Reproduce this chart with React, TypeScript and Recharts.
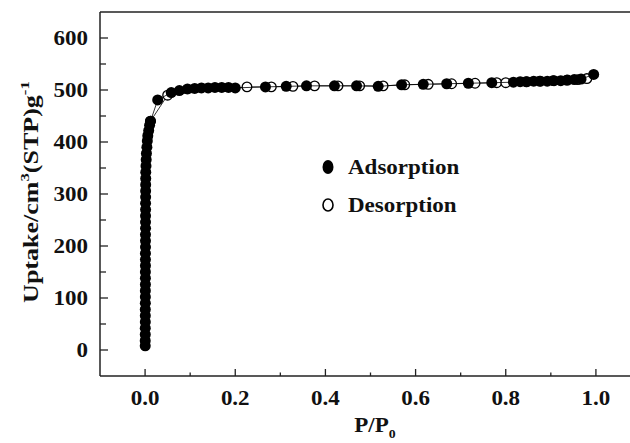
import { ScatterChart, Scatter, XAxis, YAxis, ReferenceLine, Legend, Label } from "recharts";

// adsorption branch (filled circles)
const adsP = [
  0.0003, 0.0003, 0.0004, 0.0004, 0.0005, 0.0005, 0.0005, 0.0006, 0.0006, 0.0006,
  0.0007, 0.0007, 0.0007, 0.0008, 0.0008, 0.0008, 0.0009, 0.0009, 0.0009, 0.001,
  0.001, 0.001, 0.0011, 0.0011, 0.0012, 0.0012, 0.0013, 0.0014, 0.0015, 0.002,
  0.0025, 0.003, 0.004, 0.005, 0.006, 0.008, 0.01, 0.012,
  0.028, 0.058, 0.076, 0.094, 0.11, 0.125, 0.14, 0.155, 0.17, 0.185, 0.2,
  0.267, 0.313, 0.358, 0.42, 0.469, 0.517, 0.569, 0.617, 0.669, 0.717, 0.769,
  0.817, 0.832, 0.847, 0.862, 0.877, 0.892, 0.907, 0.922, 0.937, 0.952, 0.967, 0.995,
];
const adsUptake = [
  8, 18, 30, 42, 54, 66, 78, 90, 102, 114,
  126, 138, 150, 162, 174, 186, 198, 210, 222, 234,
  246, 258, 270, 282, 294, 306, 318, 330, 342, 354,
  366, 378, 390, 402, 412, 422, 432, 440,
  481, 495, 499, 502, 503, 504, 504, 505, 505, 505, 504,
  506, 507, 508, 508, 508, 507, 510, 511, 512, 513, 514,
  515, 516, 516, 517, 517, 517, 518, 518, 519, 520, 521, 530,
];

// desorption branch (open circles)
const desP = [
  0.012, 0.05, 0.226, 0.28, 0.328, 0.376, 0.428, 0.476, 0.528, 0.576, 0.628, 0.68,
  0.732, 0.78, 0.8, 0.845, 0.875, 0.905, 0.935, 0.96, 0.98,
];
const desUptake = [
  440, 490, 506, 506, 507, 508, 508, 508, 508, 510, 511, 512,
  513, 514, 514, 516, 517, 518, 519, 520, 522,
];

const xTicks = [0, 0.1, 0.2, 0.3, 0.4, 0.5, 0.6, 0.7, 0.8, 0.9, 1.0];
const yTicks = [0, 50, 100, 150, 200, 250, 300, 350, 400, 450, 500, 550, 600];

const adsorption = adsP.map((p, i) => ({ p, v: adsUptake[i] }));
const desorption = desP.map((p, i) => ({ p, v: desUptake[i] }));

const AXIS = "#222";
const font = { fontFamily: "'Liberation Serif', 'Times New Roman', serif", fontWeight: 700, fontSize: 20, fill: "#111" } as const;

const XTick = (props: any) => {
  const { x, y, payload } = props;
  const v = payload.value as number;
  const major = Math.round(v * 10) % 2 === 0;
  return (
    <g>
      <line x1={x} x2={x} y1={y} y2={y - (major ? 7 : 3.5)} stroke={AXIS} strokeWidth={1.3} />
      {major && (
        <text transform={`translate(${x},${y + 29}) scale(1.15,1)`} textAnchor="middle" style={font}>
          {v.toFixed(1)}
        </text>
      )}
    </g>
  );
};

const YTick = (props: any) => {
  const { x, y, payload } = props;
  const v = payload.value as number;
  const major = v % 100 === 0;
  return (
    <g>
      <line x1={x} x2={x + (major ? 8 : 6)} y1={y} y2={y} stroke={AXIS} strokeWidth={1.3} />
      {major && (
        <text transform={`translate(${x - 12},${y + 7}) scale(1.15,1)`} textAnchor="end" style={font}>
          {v}
        </text>
      )}
    </g>
  );
};

const LegendBox = () => (
  <svg width={180} height={80}>
    <ellipse cx={16} cy={22} rx={5.5} ry={7} fill="#000" />
    <text transform="translate(36,29) scale(1.15,1)" style={font}>Adsorption</text>
    <ellipse cx={16} cy={60} rx={5} ry={6} fill="#fff" stroke="#000" strokeWidth={1.6} />
    <text transform="translate(36,67) scale(1.15,1)" style={font}>Desorption</text>
  </svg>
);

export default function App() {
  return (
    <div style={{ position: "absolute", left: 0, top: 0, width: 630, height: 443, overflow: "hidden", background: "#fff" }}>
      <ScatterChart width={700} height={443} margin={{ top: 12, right: 59, bottom: 37, left: 0 }}>
        <XAxis
          dataKey="p"
          type="number"
          domain={[-0.1, 1.1]}
          ticks={xTicks}
          interval={0}
          allowDataOverflow
          height={30}
          tickSize={0}
          tickMargin={0}
          tickLine={false}
          axisLine={{ stroke: AXIS, strokeWidth: 1.5 }}
          tick={<XTick />}
        >
          <Label
            content={() => (
              <text transform="translate(375,432) scale(1.15,1)" textAnchor="middle" style={font}>
                P/P<tspan dy={6} fontSize={12}>0</tspan>
              </text>
            )}
          />
        </XAxis>
        <YAxis
          dataKey="v"
          type="number"
          domain={[-50, 650]}
          ticks={yTicks}
          interval={0}
          allowDataOverflow
          width={100}
          tickSize={0}
          tickMargin={0}
          tickLine={false}
          axisLine={{ stroke: AXIS, strokeWidth: 1.5 }}
          tick={<YTick />}
        >
          <Label
            content={() => (
              <text transform="translate(38,192) rotate(-90) scale(1.3,1)" textAnchor="middle" style={font}>
                Uptake/cm<tspan dy={-9} fontSize={13}>3</tspan>
                <tspan dy={9}>(STP)g</tspan>
                <tspan dy={-9} fontSize={13}>-1</tspan>
              </text>
            )}
          />
        </YAxis>
        <ReferenceLine y={650} stroke={AXIS} strokeWidth={1.5} />
        <ReferenceLine x={1.1} stroke={AXIS} strokeWidth={1.5} />
        <Scatter
          name="Desorption"
          data={desorption}
          isAnimationActive={false}
          line={{ stroke: "#000", strokeWidth: 0.8 }}
          lineType="joint"
          shape={(s: any) => <circle cx={s.cx} cy={s.cy} r={4.8} fill="#fff" stroke="#000" strokeWidth={1.3} />}
        />
        <Scatter
          name="Adsorption"
          data={adsorption}
          isAnimationActive={false}
          line={{ stroke: "#000", strokeWidth: 0.8 }}
          lineType="joint"
          shape={(s: any) => <circle cx={s.cx} cy={s.cy} r={5.5} fill="#000" />}
        />
        <Legend
          layout="vertical"
          align="center"
          verticalAlign="middle"
          wrapperStyle={{ left: 312, top: 145, width: 180, height: 80 }}
          content={() => <LegendBox />}
        />
      </ScatterChart>
    </div>
  );
}
